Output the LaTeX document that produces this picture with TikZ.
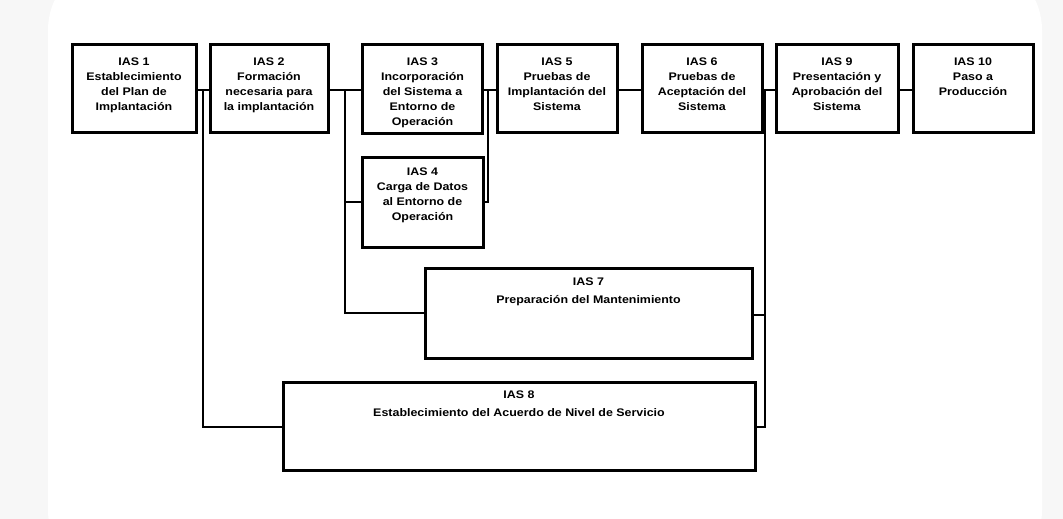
\documentclass[tikz,border=0pt]{standalone}
\usepackage{fontspec}
\setmainfont{Liberation Sans}[FakeStretch=1.13]
\begin{document}
\begin{tikzpicture}[x=1pt,y=-1pt,
  box/.style={draw=black,line width=3pt,fill=white,inner sep=0pt,outer sep=0pt},
  txt/.style={anchor=north,align=center,inner sep=0pt,font=\bfseries\fontsize{11}{14.8}\selectfont},
  widetxt/.style={anchor=north,align=center,inner sep=0pt,font=\bfseries\fontsize{11}{18}\selectfont},
  conn/.style={draw=black,line width=2.6pt}]
\useasboundingbox (0,0) rectangle (1063,519);
\fill[gray!6] (0,0) rectangle (1063,519);
\fill[white,rounded corners=70pt] (48,-40) rectangle (1042,580);
% boxes
\node[box,minimum width=124pt,minimum height=87pt] (b1) at (134,88.5) {};
\node[box,minimum width=118pt,minimum height=87pt] (b2) at (269,88.5) {};
\node[box,minimum width=120pt,minimum height=88pt] (b3) at (422.5,89) {};
\node[box,minimum width=120pt,minimum height=87pt] (b5) at (557,88.5) {};
\node[box,minimum width=120pt,minimum height=87pt] (b6) at (702,88.5) {};
\node[box,minimum width=122pt,minimum height=87pt] (b9) at (837,88.5) {};
\node[box,minimum width=120pt,minimum height=87pt] (b10) at (973,88.5) {};
\node[box,minimum width=121pt,minimum height=90pt] (b4) at (422.5,202) {};
\node[box,minimum width=327pt,minimum height=90pt] (b7) at (588.5,313) {};
\node[box,minimum width=472pt,minimum height=88pt] (b8) at (519,426) {};
% texts
\node[txt] (t1) at ([yshift=-13pt]b1.north) {IAS 1\\Establecimiento\\del Plan de\\Implantación};
\node[txt] (t2) at ([yshift=-13pt]b2.north) {IAS 2\\Formación\\necesaria para\\la implantación};
\node[txt] (t3) at ([yshift=-13pt]b3.north) {IAS 3\\Incorporación\\del Sistema a\\Entorno de\\Operación};
\node[txt] (t5) at ([yshift=-13pt]b5.north) {IAS 5\\Pruebas de\\Implantación del\\Sistema};
\node[txt] (t6) at ([yshift=-13pt]b6.north) {IAS 6\\Pruebas de\\Aceptación del\\Sistema};
\node[txt] (t9) at ([yshift=-13pt]b9.north) {IAS 9\\Presentación y\\Aprobación del\\Sistema};
\node[txt] (t10) at ([yshift=-13pt]b10.north) {IAS 10\\Paso a\\Producción};
\node[txt] (t4) at ([yshift=-11pt]b4.north) {IAS 4\\Carga de Datos\\al Entorno de\\Operación};
\node[widetxt] (t7) at ([yshift=-10pt]b7.north) {IAS 7\\Preparación del Mantenimiento};
\node[widetxt] (t8) at ([yshift=-9pt]b8.north) {IAS 8\\Establecimiento del Acuerdo de Nivel de Servicio};
% junction coordinates
\coordinate (j1) at (203,90);
\coordinate (j2) at (345,90);
\coordinate (j3) at (488,90);
\coordinate (j6) at (765,90);
% connectors
\draw[conn] (b1.east |- j1) -- (b2.west |- j1);
\draw[conn] (j1) |- (b8.west |- 0,427);
\draw[conn] (b2.east |- j2) -- (b3.west |- j2);
\draw[conn] (j2) |- (b7.west |- 0,313);
\draw[conn] (j2 |- 0,202) -- (b4.west |- 0,202);
\draw[conn] (b3.east |- j3) -- (b5.west |- j3);
\draw[conn] (j3) |- (b4.east |- 0,202);
\draw[conn] (b5.east |- j1) -- (b6.west |- j1);
\draw[conn] (b6.east |- j6) -- (b9.west |- j6);
\draw[conn] (j6) |- (b8.east |- 0,427);
\draw[conn] (j6 |- 0,315) -- (b7.east |- 0,315);
\draw[conn] (b9.east |- j1) -- (b10.west |- j1);
\end{tikzpicture}
\end{document}
